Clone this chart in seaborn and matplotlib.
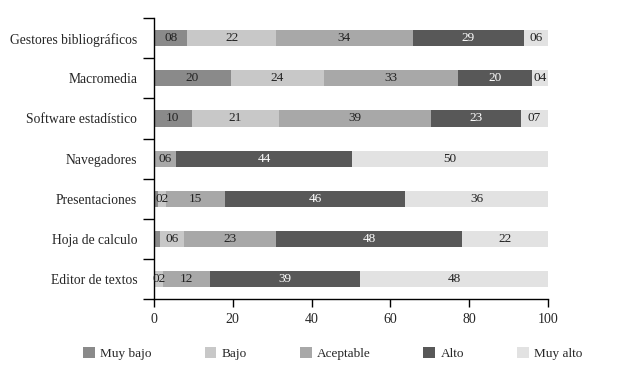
import numpy as np
import pandas as pd
import matplotlib.pyplot as plt
import seaborn as sns
from matplotlib.patches import Patch

# Categories (top to bottom) and levels
categories = [
    "Gestores bibliográficos",
    "Macromedia",
    "Software estadístico",
    "Navegadores",
    "Presentaciones",
    "Hoja de calculo",
    "Editor de textos",
]
levels = ["Muy bajo", "Bajo", "Aceptable", "Alto", "Muy alto"]

# Segment widths (%)
muy_bajo = [8.5, 19.5, 9.6, 0.0, 0.9, 1.5, 0.0]
bajo = [22.4, 23.6, 22.1, 0.0, 2.2, 6.1, 2.4]
aceptable = [34.8, 34.0, 38.6, 5.6, 15.0, 23.4, 11.7]
alto = [28.1, 18.8, 22.8, 44.7, 45.7, 47.2, 38.3]
muy_alto = [6.2, 4.1, 6.9, 49.7, 36.2, 21.8, 47.6]

# Printed labels on each segment ("" = no label)
lbl_muy_bajo = ["08", "20", "10", "", "", "", ""]
lbl_bajo = ["22", "24", "21", "", "02", "06", "02"]
lbl_aceptable = ["34", "33", "39", "06", "15", "23", "12"]
lbl_alto = ["29", "20", "23", "44", "46", "48", "39"]
lbl_muy_alto = ["06", "04", "07", "50", "36", "22", "48"]

colors = ["#8a8a8a", "#c8c8c8", "#a8a8a8", "#585858", "#e2e2e2"]
text_colors = ["#222222", "#222222", "#222222", "white", "#222222"]

series = [muy_bajo, bajo, aceptable, alto, muy_alto]
labels = [lbl_muy_bajo, lbl_bajo, lbl_aceptable, lbl_alto, lbl_muy_alto]

sns.set_style("white")
plt.rcParams["font.family"] = ["Liberation Serif", "DejaVu Serif"]

fig = plt.figure(figsize=(6.22, 3.76), dpi=100)
ax = fig.add_axes([0.2476, 0.204, 0.6334, 0.748])

left = np.zeros(len(categories))
for vals, lbls, col, tcol in zip(series, labels, colors, text_colors):
    df = pd.DataFrame({"cat": categories, "val": vals})
    sns.barplot(data=df, x="val", y="cat", order=categories, color=col,
                width=0.4, left=left.copy(), ax=ax, saturation=1,
                edgecolor="none", linewidth=0)
    for i, (v, t) in enumerate(zip(vals, lbls)):
        if t:
            ax.text(left[i] + v / 2, i, t, ha="center", va="center",
                    fontsize=9.5, color=tcol)
    left += np.array(vals)

ax.set_xlim(0, 100)
ax.set_ylim(6.5, -0.5)
ax.set_xticks([0, 20, 40, 60, 80, 100])
ax.set_xlabel("")
ax.set_ylabel("")
ax.set_yticks(range(len(categories)))
ax.set_yticklabels(categories)
ax.set_yticks(np.arange(-0.5, 7, 1), minor=True)
ax.tick_params(axis="y", which="major", length=0, pad=12, labelsize=9.8)
ax.tick_params(axis="y", which="minor", length=8, width=1, color="black",
               direction="out", left=True)
ax.tick_params(axis="x", length=6, width=1, color="black", direction="out",
               bottom=True, labelsize=10, pad=4)
for s in ["top", "right"]:
    ax.spines[s].set_visible(False)
for s in ["left", "bottom"]:
    ax.spines[s].set_color("black")
    ax.spines[s].set_linewidth(1)

handles = [Patch(facecolor=c, edgecolor="none") for c in colors]
fig.legend(handles, levels, loc="center", bbox_to_anchor=(0.535, 0.06),
           ncol=5, frameon=False, fontsize=9.5, handlelength=0.9,
           handleheight=0.9, handletextpad=0.4, columnspacing=4.0)

fig.savefig("out.png", dpi=100)
